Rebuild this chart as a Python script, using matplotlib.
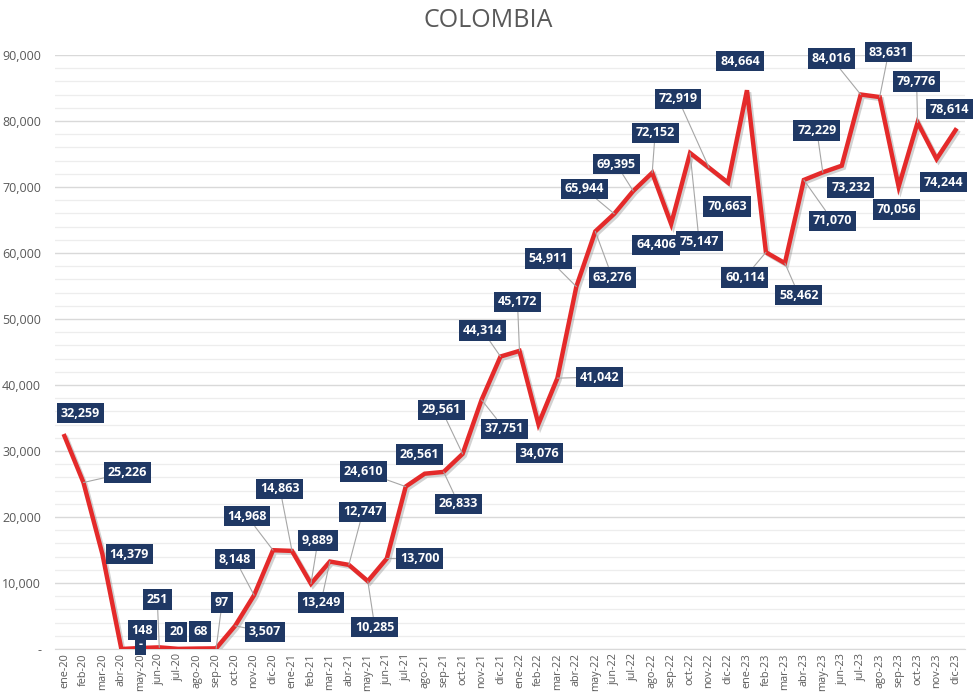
import numpy as np
import matplotlib.pyplot as plt
import matplotlib.patheffects as pe
from matplotlib.ticker import FuncFormatter, MultipleLocator

plt.rcParams['font.family'] = ['Open Sans', 'DejaVu Sans']

# ------------------------------
# Data
# ------------------------------
months = ['ene', 'feb', 'mar', 'abr', 'may', 'jun',
          'jul', 'ago', 'sep', 'oct', 'nov', 'dic']
years = ['20', '21', '22', '23']
labels = [f'{m}-{y}' for y in years for m in months]

values = [32259, 25226, 14379, 0, 148, 251, 20, 68, 97, 3507, 8148, 14968,
          14863, 9889, 13249, 12747, 10285, 13700, 24610, 26561, 26833, 29561, 37751, 44314,
          45172, 34076, 41042, 54911, 63276, 65944, 69395, 72152, 64406, 75147, 72919, 70663,
          84664, 60114, 58462, 71070, 72229, 73232, 84016, 83631, 70056, 79776, 74244, 78614]

# label box offsets from each point (pixels, y up)
label_offsets = [(16, 23), (44, 10), (27, 0), (19, 4), (2, 18), (-2, 48), (-2, 17), (3, 17),
                 (6, 46), (30, -6), (-19, 36), (-26, 34),
                 (-12, 62), (7, 43), (-9, -41), (14, 53), (7, -46), (33, 0), (-42, 15), (-5, 19),
                 (15, -32), (-21, 44), (23, -29), (-18, 26),
                 (-2, 49), (1, -29), (42, 1), (-28, 28), (17, -46), (-30, 25), (-17, 27), (3, 40),
                 (-15, -21), (9, -88), (-31, 69), (-1, -24),
                 (-7, 29), (-21, -25), (14, -32), (29, -41), (-6, 42), (9, -22), (-29, 36), (9, 45),
                 (-2, -23), (-1, 41), (7, -23), (-6, 21)]

NAVY = '#1F3864'
RED = '#E42A2A'
GRAY = '#595959'

def fmt(v):
    return '-' if v == 0 else f'{v:,.0f}'

# ------------------------------
# Plot
# ------------------------------
fig = plt.figure(figsize=(9.77, 6.93), dpi=100)
ax = fig.add_axes([0.0563, 0.0635, 0.9314, 0.8571])

x = np.arange(len(values))
ax.plot(x, values, color=RED, linewidth=3.2, solid_joinstyle='miter', zorder=3,
        path_effects=[pe.SimpleLineShadow(offset=(1.5, -1.5), shadow_color='gray', alpha=0.35),
                      pe.Normal()])

ax.set_xlim(-0.5, len(values) - 0.5)
ax.set_ylim(0, 90000)
ax.yaxis.set_major_locator(MultipleLocator(10000))
ax.yaxis.set_minor_locator(MultipleLocator(2000))
ax.yaxis.set_major_formatter(FuncFormatter(lambda v, p: fmt(v)))
ax.grid(which='major', axis='y', color='#D9D9D9', linewidth=1.0, zorder=0)
ax.grid(which='minor', axis='y', color='#EDEDED', linewidth=0.9, zorder=0)
ax.set_axisbelow(True)

ax.set_xticks(x)
ax.set_xticklabels(labels, rotation=90, fontsize=7.8, color=GRAY)
ax.tick_params(axis='x', length=0, pad=3)
ax.tick_params(axis='y', which='both', length=0, pad=10, labelsize=9, labelcolor=GRAY)

for s in ['top', 'right', 'left']:
    ax.spines[s].set_visible(False)
ax.spines['bottom'].set_color('#D9D9D9')

# data labels
for xi, v, (dx, dy) in zip(x, values, label_offsets):
    far = np.hypot(dx, dy) > 30
    ax.annotate(fmt(v), xy=(xi, v), xytext=(dx, dy), textcoords='offset pixels',
                ha='center', va='center', fontsize=9, fontweight='bold', color='white',
                bbox=dict(boxstyle='square,pad=0.3', fc=NAVY, ec='none'),
                arrowprops=dict(arrowstyle='-', color='#A6A6A6', lw=0.8,
                                shrinkA=0, shrinkB=0) if far else None,
                zorder=5)

fig.text(0.5, 0.971, 'COLOMBIA', ha='center', va='center', fontsize=18, color=GRAY)

fig.savefig('out.png', dpi=100)
